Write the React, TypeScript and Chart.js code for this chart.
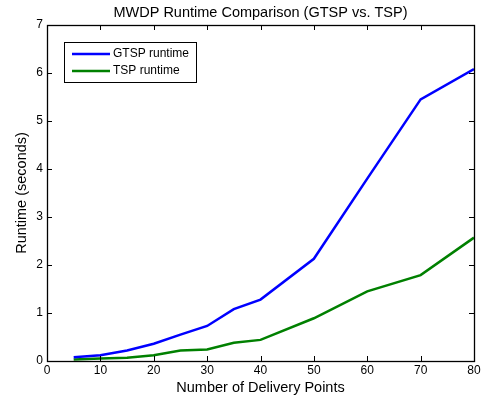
import React, { useEffect, useRef } from "react";
import { Chart, registerables } from "chart.js";

Chart.register(...registerables);

const xValues = [5, 10, 15, 20, 25, 30, 35, 40, 50, 60, 70, 80];
const gtspRuntime = [0.08, 0.12, 0.22, 0.36, 0.55, 0.73, 1.08, 1.28, 2.13, 3.8, 5.45, 6.08];
const tspRuntime = [0.03, 0.05, 0.07, 0.12, 0.22, 0.24, 0.38, 0.44, 0.89, 1.45, 1.79, 2.57];
const xTicks = [0, 10, 20, 30, 40, 50, 60, 70, 80];
const yTicks = [0, 1, 2, 3, 4, 5, 6, 7];
const seriesLabels = ["GTSP runtime", "TSP runtime"];
const seriesColors = ["#0000ff", "#008000"];

const FONT = "'Liberation Sans', Arial, sans-serif";

const boxPlugin = {
  id: "matlabBox",
  afterDraw(chart: any) {
    const { ctx, chartArea: a, scales } = chart;
    const tl = 5;
    ctx.save();
    ctx.strokeStyle = "#000";
    ctx.lineWidth = 1;
    ctx.beginPath();
    for (const v of xTicks) {
      const px = Math.round(scales.x.getPixelForValue(v)) + 0.5;
      ctx.moveTo(px, a.bottom);
      ctx.lineTo(px, a.bottom - tl);
      ctx.moveTo(px, a.top);
      ctx.lineTo(px, a.top + tl);
    }
    for (const v of yTicks) {
      const py = Math.round(scales.y.getPixelForValue(v)) + 0.5;
      ctx.moveTo(a.left, py);
      ctx.lineTo(a.left + tl, py);
      ctx.moveTo(a.right, py);
      ctx.lineTo(a.right - tl, py);
    }
    ctx.stroke();
    ctx.lineWidth = 1.3;
    ctx.strokeRect(Math.round(a.left) + 0.5, Math.round(a.top) + 0.5, Math.round(a.right - a.left), Math.round(a.bottom - a.top));

    // legend
    const lx = a.left + 17;
    const ly = a.top + 17;
    const lw = 132;
    const lh = 40;
    ctx.fillStyle = "#fff";
    ctx.fillRect(lx, ly, lw, lh);
    ctx.lineWidth = 1;
    ctx.strokeStyle = "#000";
    ctx.strokeRect(lx + 0.5, ly + 0.5, lw, lh);
    ctx.font = `12px ${FONT}`;
    ctx.textBaseline = "middle";
    ctx.textAlign = "left";
    chart.data.datasets.forEach((ds: any, i: number) => {
      const y = ly + 12 + i * 17;
      ctx.strokeStyle = ds.borderColor;
      ctx.lineWidth = 2.5;
      ctx.beginPath();
      ctx.moveTo(lx + 8, y);
      ctx.lineTo(lx + 46, y);
      ctx.stroke();
      ctx.fillStyle = "#000";
      ctx.fillText(ds.label, lx + 49, y);
    });
    ctx.restore();
  },
};

export default function App() {
  const ref = useRef<HTMLCanvasElement>(null);
  useEffect(() => {
    if (!ref.current) return;
    const chart = new Chart(ref.current, {
      type: "line",
      data: {
        datasets: [
          {
            label: seriesLabels[0],
            data: xValues.map((x, i) => ({ x, y: gtspRuntime[i] })),
            borderColor: seriesColors[0],
            backgroundColor: seriesColors[0],
            borderWidth: 2.5,
            pointRadius: 0,
            tension: 0,
          },
          {
            label: seriesLabels[1],
            data: xValues.map((x, i) => ({ x, y: tspRuntime[i] })),
            borderColor: seriesColors[1],
            backgroundColor: seriesColors[1],
            borderWidth: 2.5,
            pointRadius: 0,
            tension: 0,
          },
        ],
      },
      options: {
        animation: false,
        responsive: false,
        devicePixelRatio: 1,
        layout: { padding: { left: 0, right: 13, top: 0, bottom: 0 } },
        plugins: {
          legend: { display: false },
          tooltip: { enabled: false },
          title: {
            display: true,
            text: "MWDP Runtime Comparison (GTSP vs. TSP)",
            fullSize: false,
            color: "#000",
            font: { family: FONT, size: 14.5, weight: "normal", lineHeight: 1.2 },
            padding: { top: 4, bottom: 3.6 },
          },
        },
        scales: {
          x: {
            type: "linear",
            min: 0,
            max: 80,
            afterBuildTicks: (s: any) => {
              s.ticks = xTicks.map((v) => ({ value: v }));
            },
            afterFit: (s: any) => {
              s.height = 42;
            },
            grid: { display: false, drawTicks: false },
            border: { display: false },
            ticks: { color: "#000", font: { family: FONT, size: 12 }, padding: 2, maxRotation: 0 },
            title: {
              display: true,
              text: "Number of Delivery Points",
              color: "#000",
              font: { family: FONT, size: 14.5, lineHeight: 1.2 },
              padding: { top: 0, bottom: 6.3 },
            },
          },
          y: {
            type: "linear",
            min: 0,
            max: 7,
            afterBuildTicks: (s: any) => {
              s.ticks = yTicks.map((v) => ({ value: v }));
            },
            afterFit: (s: any) => {
              s.width = 47;
            },
            grid: { display: false, drawTicks: false },
            border: { display: false },
            ticks: { color: "#000", font: { family: FONT, size: 12 }, padding: 4 },
            title: {
              display: true,
              text: "Runtime (seconds)",
              color: "#000",
              font: { family: FONT, size: 14.5, lineHeight: 1.2 },
              padding: { top: 13.3, bottom: 0 },
            },
          },
        },
      },
      plugins: [boxPlugin],
    } as any);
    return () => chart.destroy();
  }, []);
  return (
    <div style={{ position: "fixed", left: 0, top: 0, width: 487, height: 403, background: "#fff" }}>
      <canvas ref={ref} width={487} height={403} style={{ display: "block", width: 487, height: 403 }} />
    </div>
  );
}
